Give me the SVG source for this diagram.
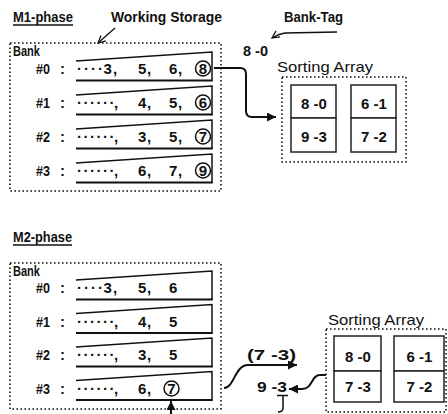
<svg xmlns="http://www.w3.org/2000/svg" width="448" height="414" viewBox="0 0 448 414">
<style>
text{font-family:"Liberation Sans",Arial,sans-serif;font-weight:bold;font-size:15px;fill:#111}
.lbl{font-size:15px}
.thin{font-weight:normal}
.mid{text-anchor:middle}
.dot{fill:none;stroke:#111;stroke-width:1.6;stroke-dasharray:1.6 2.4}
.row{fill:none;stroke:#111;stroke-width:1.5}
.rowb{fill:none;stroke:#111;stroke-width:2.2}
.circ{fill:none;stroke:#111;stroke-width:1.5}
.cell{fill:#fff;stroke:#222;stroke-width:1.5}
.ul{stroke:#111;stroke-width:1.5}
.arr{fill:none;stroke:#111;stroke-width:2}
.tarr{fill:none;stroke:#111;stroke-width:1.3}
</style>
<defs>
<marker id="fh" viewBox="0 0 10 10" refX="10" refY="5" markerWidth="4.5" markerHeight="4.5" markerUnits="strokeWidth" orient="auto"><path d="M0,0 L10,5 L0,10 z" fill="#111"/></marker>
<marker id="oh" viewBox="0 0 10 10" refX="9" refY="5" markerWidth="7" markerHeight="7" markerUnits="strokeWidth" orient="auto"><path d="M1,1 L9,5 L1,9" fill="none" stroke="#111" stroke-width="1.4"/></marker>
</defs>

<!-- M1 phase -->
<g id="m1-title">
<text class="lbl" x="13" y="22" textLength="60" lengthAdjust="spacingAndGlyphs">M1-phase</text>
<line class="ul" x1="13" y1="25" x2="73" y2="25"/>
</g>
<g id="working-storage-label"><text class="lbl" x="111" y="22" textLength="111" lengthAdjust="spacingAndGlyphs">Working Storage</text></g>
<g id="bank-tag-label"><text class="lbl" x="284" y="22" textLength="59" lengthAdjust="spacingAndGlyphs">Bank-Tag</text></g>
<g id="tag-value"><text x="243" y="56" textLength="25" lengthAdjust="spacingAndGlyphs">8 -0</text></g>

<g id="m1-storage">
<rect class="dot" x="10" y="43" width="211" height="148"/>
<text class="lbl" x="13" y="56" textLength="27" lengthAdjust="spacingAndGlyphs">Bank</text>
<g id="m1-bank0">
<text x="36" y="73.5" textLength="14" lengthAdjust="spacingAndGlyphs">#0</text><text x="60" y="73.5">:</text>
<path class="row" d="M76,61 L212,52 L212,80.5"/><line class="rowb" x1="76" y1="80.5" x2="212.8" y2="80.5"/>
<text y="73.5" x="77 84 91 98 103.5 113">····3,</text>
<text y="73.5" x="138 147">5,</text><text y="73.5" x="169 178">6,</text>
<circle class="circ" cx="203" cy="68.5" r="7.5"/><text class="mid" x="203" y="74">8</text>
</g>
<g id="m1-bank1">
<text x="36" y="107.5" textLength="14" lengthAdjust="spacingAndGlyphs">#1</text><text x="60" y="107.5">:</text>
<path class="row" d="M76,95 L212,86 L212,114.5"/><line class="rowb" x1="76" y1="114.5" x2="212.8" y2="114.5"/>
<text y="107.5" x="77 83.5 90 96.5 103 109.5 114">······,</text>
<text y="107.5" x="138 147">4,</text><text y="107.5" x="169 178">5,</text>
<circle class="circ" cx="203" cy="102.5" r="7.5"/><text class="mid" x="203" y="108">6</text>
</g>
<g id="m1-bank2">
<text x="36" y="141.5" textLength="14" lengthAdjust="spacingAndGlyphs">#2</text><text x="60" y="141.5">:</text>
<path class="row" d="M76,129 L212,120 L212,148.5"/><line class="rowb" x1="76" y1="148.5" x2="212.8" y2="148.5"/>
<text y="141.5" x="77 83.5 90 96.5 103 109.5 114">······,</text>
<text y="141.5" x="138 147">3,</text><text y="141.5" x="169 178">5,</text>
<circle class="circ" cx="203" cy="136.5" r="7.5"/><text class="mid" x="203" y="142">7</text>
</g>
<g id="m1-bank3">
<text x="36" y="175.5" textLength="14" lengthAdjust="spacingAndGlyphs">#3</text><text x="60" y="175.5">:</text>
<path class="row" d="M76,163 L212,154 L212,182.5"/><line class="rowb" x1="76" y1="182.5" x2="212.8" y2="182.5"/>
<text y="175.5" x="77 83.5 90 96.5 103 109.5 114">······,</text>
<text y="175.5" x="138 147">6,</text><text y="175.5" x="169 178">7,</text>
<circle class="circ" cx="203" cy="170.5" r="7.5"/><text class="mid" x="203" y="176">9</text>
</g>
</g>

<g id="m1-sorting-array">
<text class="lbl thin" x="277" y="72" textLength="96" lengthAdjust="spacingAndGlyphs">Sorting Array</text>
<rect class="dot" x="282" y="77" width="124" height="85"/>
<rect class="cell" x="291" y="85" width="45" height="33"/>
<rect class="cell" x="291" y="118" width="45" height="34"/>
<rect class="cell" x="351" y="85" width="45" height="33"/>
<rect class="cell" x="351" y="118" width="45" height="34"/>
<text class="mid" x="314" y="108.5">8 -0</text>
<text class="mid" x="374" y="108.5">6 -1</text>
<text class="mid" x="314" y="142">9 -3</text>
<text class="mid" x="374" y="142">7 -2</text>
</g>

<!-- M2 phase -->
<g id="m2-title">
<text class="lbl" x="13" y="242" textLength="59" lengthAdjust="spacingAndGlyphs">M2-phase</text>
<line class="ul" x1="13" y1="245" x2="72" y2="245"/>
</g>

<g id="m2-storage">
<rect class="dot" x="10" y="263" width="211" height="146"/>
<text class="lbl" x="13" y="276" textLength="27" lengthAdjust="spacingAndGlyphs">Bank</text>
<g id="m2-bank0">
<text x="36" y="293" textLength="14" lengthAdjust="spacingAndGlyphs">#0</text><text x="60" y="293">:</text>
<path class="row" d="M76,280 L212,271 L212,299.5"/><line class="rowb" x1="76" y1="299.5" x2="212.8" y2="299.5"/>
<text y="293" x="77 84 91 98 103.5 113">····3,</text>
<text y="293" x="138 147">5,</text><text y="293" x="169">6</text>
</g>
<g id="m2-bank1">
<text x="36" y="326.5" textLength="14" lengthAdjust="spacingAndGlyphs">#1</text><text x="60" y="326.5">:</text>
<path class="row" d="M76,313.5 L212,304.5 L212,333"/><line class="rowb" x1="76" y1="333" x2="212.8" y2="333"/>
<text y="326.5" x="77 83.5 90 96.5 103 109.5 114">······,</text>
<text y="326.5" x="138 147">4,</text><text y="326.5" x="169">5</text>
</g>
<g id="m2-bank2">
<text x="36" y="360" textLength="14" lengthAdjust="spacingAndGlyphs">#2</text><text x="60" y="360">:</text>
<path class="row" d="M76,347 L212,338 L212,366.5"/><line class="rowb" x1="76" y1="366.5" x2="212.8" y2="366.5"/>
<text y="360" x="77 83.5 90 96.5 103 109.5 114">······,</text>
<text y="360" x="138 147">3,</text><text y="360" x="169">5</text>
</g>
<g id="m2-bank3">
<text x="36" y="393.5" textLength="14" lengthAdjust="spacingAndGlyphs">#3</text><text x="60" y="393.5">:</text>
<path class="row" d="M76,380.5 L212,371.5 L212,400"/><line class="rowb" x1="76" y1="400" x2="212.8" y2="400"/>
<text y="393.5" x="77 83.5 90 96.5 103 109.5 114">······,</text>
<text y="393.5" x="138 147">6,</text>
<circle class="circ" cx="171.5" cy="388.5" r="7.5"/><text class="mid" x="171.5" y="394">7</text>
</g>
</g>

<g id="m2-sorting-array">
<text class="lbl thin" x="328" y="325" textLength="96" lengthAdjust="spacingAndGlyphs">Sorting Array</text>
<rect class="dot" x="326" y="329" width="120" height="83"/>
<rect class="cell" x="334" y="336" width="47" height="35"/>
<rect class="cell" x="334" y="371" width="47" height="31"/>
<rect class="cell" x="394" y="336" width="50" height="35"/>
<rect class="cell" x="394" y="371" width="50" height="31"/>
<text class="mid" x="358" y="362">8 -0</text>
<text class="mid" x="419.5" y="362">6 -1</text>
<text class="mid" x="358" y="391.5">7 -3</text>
<text class="mid" x="419.5" y="391.5">7 -2</text>
</g>

<g id="m2-tags">
<text x="247" y="360" textLength="49" lengthAdjust="spacingAndGlyphs">(7 -3)</text>
<text x="257" y="392" textLength="30" lengthAdjust="spacingAndGlyphs">9 -3</text>
<path class="ul" d="M277,395.5 H288 M283,395.5 V408 Q283,412 278,412" fill="none"/>
</g>

<g id="connectors">
<path class="tarr" d="M115,28 L98,43" marker-end="url(#oh)"/>
<path class="tarr" d="M337,32 L285,33 Q278,34 272,38" marker-end="url(#oh)"/>
<path class="arr" d="M214,68 H240 Q246,68 246,74 V111 Q246,117 252,117 H276" marker-end="url(#fh)"/>
<path class="arr" d="M224,388 C234,388 235,365 248,365 H297" marker-end="url(#fh)"/>
<path class="arr" d="M326,375 H320 C311,375 313,389 302,389 H289" marker-end="url(#fh)"/>
<path class="arr" d="M171,414 V401" marker-end="url(#fh)"/>
</g>
</svg>
